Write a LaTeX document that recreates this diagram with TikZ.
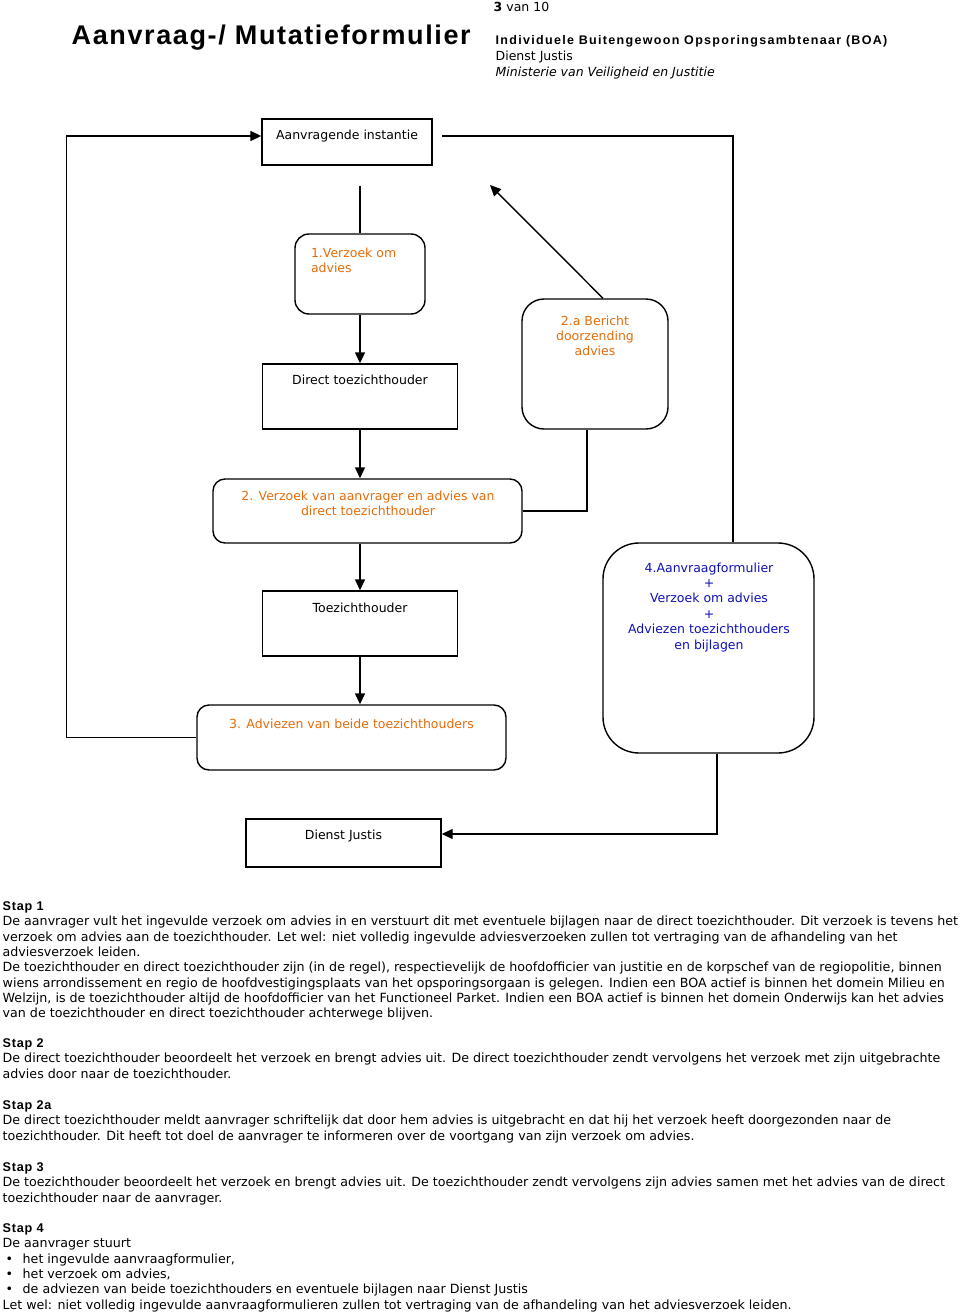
\documentclass[tikz,border=0pt]{standalone}
\usepackage{fontspec}
\usepackage{xcolor}
\usepackage{tikz}
\usetikzlibrary{arrows.meta}
\usetikzlibrary{calc}
\usetikzlibrary{positioning}
\setmainfont{DejaVu Sans}
\newfontfamily\kopfont[LetterSpace=6]{Liberation Sans}
\definecolor{oranje}{RGB}{228,108,10}
\definecolor{blauw}{RGB}{16,16,184}
\newcommand{\stapkop}[1]{{\kopfont\bfseries #1}}
\newcommand{\opsom}{\makebox[20pt][l]{\hspace{3pt}\textbullet}}

\begin{document}
\begin{tikzpicture}[x=1pt,y=-1pt,>={Triangle[length=11pt,width=10pt]},line width=1.4pt,font=\fontsize{12.5}{15.4}\selectfont]
	\tikzstyle{blok}=[draw, rectangle, inner sep=0pt]
	\tikzstyle{rblok}=[blok, rounded corners=12pt]
	\tikzstyle{tekst}=[anchor=north, inner sep=0pt, align=center]
	\tikzstyle{kop}=[anchor=base west, inner sep=0pt]
	\tikzstyle{stap}=[anchor=north west, inner sep=0pt, align=left, font=\fontsize{12.65}{15.35}\selectfont]
	\useasboundingbox (0,0) rectangle (960,1314);

	% kop van de pagina
	\node[kop, font=\kopfont\bfseries\fontsize{27}{30}\selectfont] (titel) at (71,45) {Aanvraag-/ Mutatieformulier};
	\node[kop] (pagina) at (493,11.5) {\textbf{3} van 10};
	\node[kop, font=\kopfont\bfseries\addfontfeature{LetterSpace=10.5}\fontsize{12.5}{15}\selectfont] (kop1) at (495,45) {Individuele Buitengewoon Opsporingsambtenaar (BOA)};
	\node[kop] (kop2) at (495,61) {Dienst Justis};
	\node[kop, font=\fontsize{12.5}{15}\selectfont\itshape] (kop3) at (495,77) {Ministerie van Veiligheid en Justitie};

	% blokken
	\node[blok, minimum width=170pt, minimum height=46pt] (aanv) at (347,142) {};
	\node[rblok, minimum width=130pt, minimum height=80pt, rounded corners=14pt] (vz1) at (360,274) {};
	\node[blok, minimum width=195pt, minimum height=65pt] (dth) at (360,396.5) {};
	\node[rblok, minimum width=146pt, minimum height=130pt, rounded corners=22pt] (b2a) at (595,364) {};
	\node[rblok, minimum width=309pt, minimum height=64pt] (vz2) at (367.5,511) {};
	\node[blok, minimum width=195pt, minimum height=65pt] (th) at (360,623.5) {};
	\node[rblok, minimum width=309pt, minimum height=65pt] (adv3) at (351.5,737.5) {};
	\node[rblok, minimum width=211pt, minimum height=210pt, rounded corners=36pt] (aanvr4) at (708.5,648) {};
	\node[blok, minimum width=195pt, minimum height=48pt] (dj) at (343.5,843) {};

	% teksten in de blokken
	\node[tekst] (aanvt) at ($(aanv.north)+(0,11.5)$) {Aanvragende instantie};
	\node[tekst, anchor=north west, align=left, text=oranje] (vz1t) at ($(vz1.north west)+(16,13.5)$) {1.Verzoek om\\advies};
	\node[tekst] (dtht) at ($(dth.north)+(0,10.5)$) {Direct toezichthouder};
	\node[tekst, text=oranje] (b2at) at ($(b2a.north)+(0,16.5)$) {2.a Bericht\\doorzending\\advies};
	\node[tekst, text=oranje] (vz2t) at ($(vz2.north)+(0.5,11.5)$) {2. Verzoek van aanvrager en advies van\\direct toezichthouder};
	\node[tekst] (tht) at ($(th.north)+(0,11.5)$) {Toezichthouder};
	\node[tekst, text=oranje] (adv3t) at ($(adv3.north)+(0,13.5)$) {3. Adviezen van beide toezichthouders};
	\node[tekst, text=blauw] (aanvr4t) at ($(aanvr4.north)+(0.5,19.5)$) {4.Aanvraagformulier\\+\\Verzoek om advies\\+\\Adviezen toezichthouders\\en bijlagen};
	\node[tekst] (djt) at ($(dj.north)+(0,10.5)$) {Dienst Justis};

	% verbindingen
	\coordinate (pijl2a) at (490,185);
	\draw[->] (adv3.west) -- ++(-130,0) |- ([yshift=6pt]aanv.west);
	\draw ([xshift=24.5pt]aanvr4.north) |- ([xshift=9pt,yshift=6pt]aanv.east);
	\draw[shorten <=20pt] (aanv.south -| vz1.north) -- (vz1.north);
	\draw (vz2.east) -| ([xshift=-8pt]b2a.south);
	\draw[->] ([xshift=8pt]b2a.north) -- (pijl2a);
	\draw[->] ([xshift=8.5pt]aanvr4.south) |- ([yshift=9pt]dj.east);
	\path[->]
		(vz1.south) edge (vz1.south |- dth.north)
		(dth.south) edge (dth.south |- vz2.north)
		(th.north |- vz2.south) edge (th.north)
		(th.south) edge (th.south |- adv3.north);

	% stappen
	\node[stap] (stap1) at (2,901) {\stapkop{Stap 1}\\
De aanvrager vult het ingevulde verzoek om advies in en verstuurt dit met eventuele bijlagen naar de direct toezichthouder. Dit verzoek is tevens het\\
verzoek om advies aan de toezichthouder. Let wel: niet volledig ingevulde adviesverzoeken zullen tot vertraging van de afhandeling van het\\
adviesverzoek leiden.\\
De toezichthouder en direct toezichthouder zijn (in de regel), respectievelijk de hoofdofficier van justitie en de korpschef van de regiopolitie, binnen\\
wiens arrondissement en regio de hoofdvestigingsplaats van het opsporingsorgaan is gelegen. Indien een BOA actief is binnen het domein Milieu en\\
Welzijn, is de toezichthouder altijd de hoofdofficier van het Functioneel Parket. Indien een BOA actief is binnen het domein Onderwijs kan het advies\\
van de toezichthouder en direct toezichthouder achterwege blijven.};
	\node[stap] (stap2) at (2,1038) {\stapkop{Stap 2}\\
De direct toezichthouder beoordeelt het verzoek en brengt advies uit. De direct toezichthouder zendt vervolgens het verzoek met zijn uitgebrachte\\
advies door naar de toezichthouder.};
	\node[stap] (stap2a) at (2,1100) {\stapkop{Stap 2a}\\
De direct toezichthouder meldt aanvrager schriftelijk dat door hem advies is uitgebracht en dat hij het verzoek heeft doorgezonden naar de\\
toezichthouder. Dit heeft tot doel de aanvrager te informeren over de voortgang van zijn verzoek om advies.};
	\node[stap] (stap3) at (2,1162) {\stapkop{Stap 3}\\
De toezichthouder beoordeelt het verzoek en brengt advies uit. De toezichthouder zendt vervolgens zijn advies samen met het advies van de direct\\
toezichthouder naar de aanvrager.};
	\node[stap] (stap4) at (2,1223) {\stapkop{Stap 4}\\
De aanvrager stuurt\\
\opsom het ingevulde aanvraagformulier,\\
\opsom het verzoek om advies,\\
\opsom de adviezen van beide toezichthouders en eventuele bijlagen naar Dienst Justis\\
Let wel: niet volledig ingevulde aanvraagformulieren zullen tot vertraging van de afhandeling van het adviesverzoek leiden.};
\end{tikzpicture}
\end{document}
